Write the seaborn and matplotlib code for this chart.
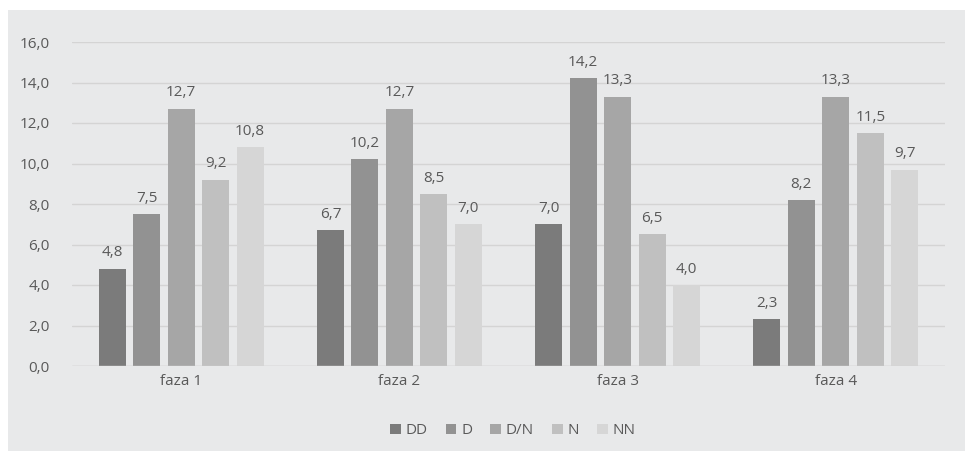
import matplotlib
matplotlib.use("Agg")
import matplotlib.pyplot as plt
from matplotlib.patches import Rectangle
import seaborn as sns
import pandas as pd

# dane
fazy = ["faza 1", "faza 2", "faza 3", "faza 4"]
grupy = ["DD", "D", "D/N", "N", "NN"]
DD = [4.8, 6.7, 7.0, 2.3]
D = [7.5, 10.2, 14.2, 8.2]
DN = [12.7, 12.7, 13.3, 13.3]
N = [9.2, 8.5, 6.5, 11.5]
NN = [10.8, 7.0, 4.0, 9.7]
kolory = ["#7b7b7b", "#929292", "#a6a6a6", "#c0c0c0", "#d6d6d6"]

rows = []
for g, vals in zip(grupy, [DD, D, DN, N, NN]):
    for f, v in zip(fazy, vals):
        rows.append({"faza": f, "grupa": g, "wartosc": v})
df = pd.DataFrame(rows)

sns.set_theme(style="white")
plt.rcParams["font.family"] = ["Open Sans", "DejaVu Sans"]
txt = "#595959"
bg = "#e8e9ea"

fig = plt.figure(figsize=(9.65, 4.51), dpi=100)
fig.add_artist(Rectangle((8 / 965, 0), 1, 1 - 10 / 451, transform=fig.transFigure,
                         facecolor=bg, edgecolor="none", zorder=-5))
ax = fig.add_axes([72 / 965, 1 - 366 / 451, (945 - 72) / 965, (366 - 42) / 451])
ax.set_facecolor(bg)

sns.barplot(data=df, x="faza", y="wartosc", hue="grupa", hue_order=grupy, order=fazy,
            palette=kolory, width=0.79, gap=0.22, ax=ax, legend=True, saturation=1,
            linewidth=0)

for cont in ax.containers:
    ax.bar_label(cont, labels=[f"{v:.1f}".replace(".", ",") for v in cont.datavalues],
                 padding=6, fontsize=11, color=txt)

ax.set_ylim(0, 16)
ax.set_yticks(range(0, 17, 2))
ax.set_yticklabels([f"{v:.1f}".replace(".", ",") for v in range(0, 17, 2)])
ax.set_xlim(-0.5, 3.5)
ax.yaxis.grid(True, color="#d4d4d4", linewidth=1)
ax.set_axisbelow(True)
for s in ax.spines.values():
    s.set_visible(False)
ax.axhline(0, color="#d4d4d4", linewidth=1)
ax.tick_params(axis="both", length=0, labelsize=11, colors=txt)
ax.tick_params(axis="y", pad=16)
ax.tick_params(axis="x", pad=6)
ax.set_xlabel("")
ax.set_ylabel("")

ax.legend(loc="upper center", bbox_to_anchor=(0.505, -0.135), ncol=5, frameon=False,
          fontsize=11, handlelength=0.7, handleheight=0.7, handletextpad=0.3,
          columnspacing=1.2, labelcolor=txt)

fig.savefig("out.png", dpi=100, facecolor="white")
